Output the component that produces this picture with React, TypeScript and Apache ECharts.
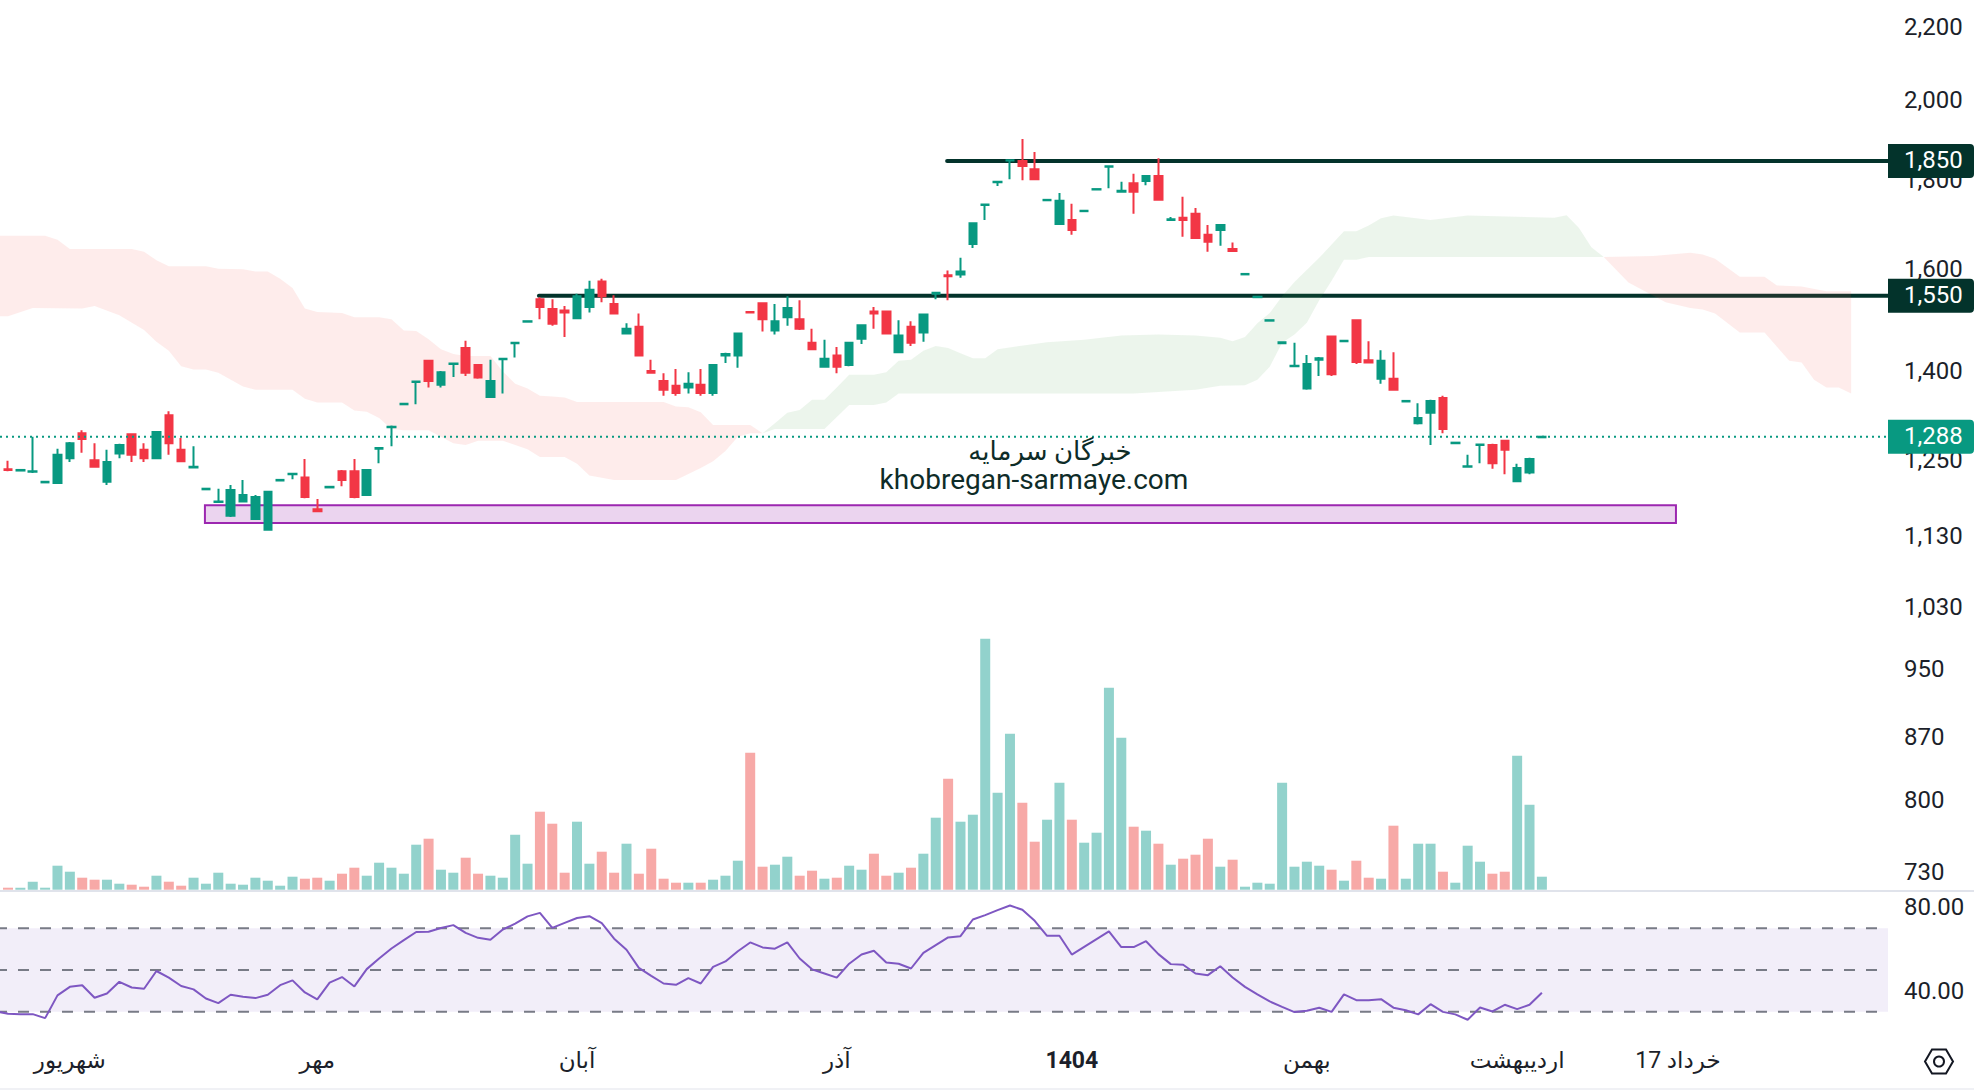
import React, { useEffect, useRef } from "react";
import * as echarts from "echarts";

const candleValues: number[][] = [
[1234,1233,1231,1248],[1232,1233,1232,1233],[1230,1231,1228,1288],[1213,1214,1213,1214],[1212,1258,1211,1268],
[1252,1277,1246,1279],[1294,1284,1261,1299],[1249,1238,1237,1277],[1214,1246,1209,1266],[1260,1274,1252,1276],
[1292,1258,1246,1294],[1266,1252,1246,1277],[1252,1296,1251,1297],[1325,1277,1258,1332],[1266,1247,1246,1286],
[1237,1238,1236,1272],[1202,1203,1202,1203],[1182,1183,1181,1203],[1161,1201,1159,1209],[1183,1193,1182,1217],
[1156,1190,1155,1193],[1140,1198,1139,1199],[1216,1217,1216,1217],[1226,1227,1218,1228],[1221,1190,1188,1251],
[1171,1168,1167,1187],[1205,1206,1205,1206],[1231,1217,1207,1233],[1231,1190,1188,1251],[1193,1233,1192,1234],
[1268,1269,1244,1270],[1304,1305,1272,1307],[1344,1345,1344,1345],[1384,1385,1344,1386],[1423,1386,1374,1425],
[1379,1402,1374,1404],[1417,1418,1393,1419],[1447,1401,1395,1461],[1415,1392,1390,1417],[1357,1386,1355,1425],
[1426,1427,1363,1428],[1456,1457,1429,1458],[1498,1499,1498,1499],[1543,1527,1503,1547],[1523,1494,1490,1543],
[1520,1516,1468,1529],[1505,1549,1503,1554],[1527,1562,1516,1581],[1579,1549,1537,1585],[1533,1514,1512,1551],
[1475,1484,1473,1495],[1488,1433,1431,1514],[1404,1401,1399,1425],[1386,1370,1359,1400],[1377,1364,1359,1408],
[1374,1381,1363,1402],[1379,1364,1359,1408],[1364,1415,1359,1417],[1433,1436,1419,1438],[1433,1475,1410,1477],
[1517,1516,1515,1518],[1535,1503,1479,1537],[1481,1499,1473,1533],[1507,1525,1490,1549],[1503,1484,1482,1541],
[1457,1445,1443,1484],[1412,1427,1410,1463],[1433,1412,1400,1449],[1415,1457,1413,1459],[1465,1491,1455,1493],
[1518,1514,1484,1527],[1518,1475,1473,1520],[1439,1471,1437,1501],[1488,1457,1451,1499],[1477,1512,1459,1514],
[1554,1556,1543,1558],[1592,1590,1541,1602],[1594,1600,1587,1629],[1659,1705,1650,1707],[1746,1747,1712,1748],
[1799,1800,1790,1801],[1851,1852,1806,1854],[1850,1838,1804,1904],[1830,1806,1804,1872],[1757,1758,1757,1758],
[1703,1756,1701,1774],[1712,1690,1679,1749],[1732,1733,1732,1733],[1782,1783,1782,1783],[1836,1837,1785,1838],
[1777,1779,1777,1800],[1797,1777,1726,1819],[1802,1814,1792,1816],[1814,1758,1756,1857],[1712,1714,1712,1719],
[1717,1712,1675,1765],[1726,1672,1670,1739],[1679,1664,1642,1701],[1690,1701,1655,1703],[1648,1644,1642,1662],
[1594,1595,1594,1595],[1547,1548,1547,1548],[1500,1501,1500,1501],[1456,1458,1456,1460],[1413,1414,1412,1457],
[1372,1417,1370,1434],[1425,1428,1395,1430],[1469,1398,1395,1471],[1460,1461,1460,1461],[1501,1421,1417,1503],
[1424,1420,1419,1460],[1390,1423,1381,1443],[1390,1370,1368,1439],[1349,1350,1349,1350],[1311,1320,1309,1346],
[1329,1350,1274,1352],[1355,1301,1294,1359],[1277,1278,1277,1278],[1238,1239,1237,1258],[1274,1275,1244,1276],
[1274,1244,1235,1276],[1281,1266,1226,1283],[1215,1236,1214,1243],[1229,1251,1226,1253],[1287,1288,1287,1288],
];

const volumeValues = [
6,6,24,6,72,54,36,30,30,18,15,9,42,24,12,36,18,51,18,15,36,27,12,39,33,36,27,48,66,42,81,66,48,135,153,60,51,96,48,42,36,165,78,234,198,51,204,78,114,51,138,48,123,33,21,21,21,30,42,87,411,69,75,99,42,
57,33,36,72,60,108,42,51,66,108,216,333,204,225,753,291,468,261,144,210,321,210,141,171,606,456,189,177,138,75,93,105,153,69,90,9,21,18,321,69,84,72,60,27,87,36,33,192,33,138,138,54,21,132,84,48,54,402,255,39,
];
const volumeSides = [
  "RGGGGGRRGG", "RRGRRGGGGG", "GGGGRRGRRG", "GGGGRGGRRG", "GGGRRRGGRR", "GRRRRGRGGG",
  "RRGGRRGRGG", "RRGRGGRGGG", "GGRRGGRGGG", "GRGRGRRRGR", "GGGGGGGRGR", "RGRGGGRGGG", "RRGGG",
].join("");
const monthIndexes = [5, 25, 46, 67, 86, 105, 122, 135];
const monthLabels = ["شهریور", "مهر", "آبان", "آذر", "1404", "بهمن", "اردیبهشت", "17 خرداد"];

// The first value belongs to the bar just off the left edge of the picture.
const rsiValues = [
30.2,29.0,28.8,28.8,26.9,37.8,41.9,42.7,36.7,38.7,44.3,41.6,41.0,49.5,46.3,42.3,40.7,36.3,34.1,38.1,37.1,36.5,38.1,42.7,45.0,39.2,35.9,43.9,46.6,42.1,50.4,
55.5,60.3,64.3,68.2,68.3,70.1,71.5,67.8,65.4,64.5,69.4,72.2,75.7,77.4,70.2,72.6,74.9,75.8,72.5,65.0,59.7,51.0,47.2,43.5,42.9,46.1,43.5,51.5,54.1,59.0,
63.2,60.8,60.2,63.2,55.5,50.3,48.3,46.3,53.0,57.4,59.2,53.6,53.0,50.7,58.2,61.9,65.6,66.2,74.2,76.3,78.7,80.9,78.9,73.6,66.4,66.4,57.4,61.1,64.8,68.5,
61.0,61.0,63.8,57.6,52.8,52.5,48.3,47.5,51.8,46.4,41.9,38.3,34.9,32.3,29.8,30.4,31.9,29.9,38.3,35.5,35.5,36.0,31.9,30.7,28.7,33.6,29.9,28.7,26.1,32.0,
30.1,33.3,31.2,33.3,39.1,
];
const rsiLevels = [70, 50, 30];
const rsiTicks = [80, 40];

const priceTickLabels = ["2,200", "2,000", "1,800", "1,600", "1,400", "1,250", "1,130", "1,030", "950", "870", "800", "730"];
const priceTickValues = [2207, 2004, 1804, 1605, 1404, 1249, 1131, 1030, 949, 868.7, 799.3, 727.6];
const tagPrices = [1850, 1550, 1288];
const tagColors = ["#03332B", "#03332B", "#089981"];
const supportLevels = [1850, 1550];
const supportStarts = [76, 43];
const lastPrice = 1288;
const zoneTop = 1177;
const zoneBottom = 1150;
const zoneStart = 16;
const zoneEnd = 135;

const redTopIdx = [-1,3,4,5,10,11,12,13,16,17,19,20,21,22,23,24,25,27,28,30,31,32,33,34,35,36,37,39,40,41,42,43,44,45,46,53,54,55,56,57,60,61];
const redTopVal = [1677,1677,1668,1648,1648,1642,1624,1611,1611,1606,1605,1600,1600,1585,1566,1524,1517,1515,1507,1507,1503,1481,1480,1464,1445,1436,1432,1432,1403,1381,1372,1359,1358,1356,1348,1348,1340,1339,1330,1308,1308,1294];
const redBotIdx = [-1,0,2,6,7,9,11,12,13,14,15,16,17,19,20,23,24,25,27,28,29,30,31,32,34,35,36,37,38,40,42,43,45,46,47,49,54,56,57,58,59,60,61];
const redBotVal = [1509,1509,1525,1524,1529,1511,1482,1459,1442,1413,1407,1407,1401,1376,1370,1370,1354,1347,1347,1333,1331,1320,1301,1299,1299,1288,1277,1274,1281,1281,1267,1254,1254,1243,1224,1217,1217,1236,1247,1264,1288,1294,1294];
const greenTopIdx = [61,62,63,64,65,66,67,68,70,71,72,73,74,75,76,77,78,79,80,84,87,90,93,96,98,99,100,101,102,103,104,106,108,109,110,111,112,115,118,125,126,127,128,129];
const greenTopVal = [1294,1311,1329,1334,1352,1352,1374,1397,1397,1402,1423,1425,1442,1451,1447,1437,1428,1428,1445,1458,1463,1471,1473,1471,1467,1460,1468,1495,1515,1549,1578,1629,1687,1687,1700,1716,1722,1712,1722,1717,1723,1694,1652,1631];
const greenBotIdx = [61,62,66,67,68,70,71,72,91,96,98,100,101,102,103,104,105,106,107,108,109,110,129];
const greenBotVal = [1294,1301,1301,1322,1343,1343,1347,1363,1363,1370,1377,1378,1388,1412,1457,1473,1496,1541,1581,1625,1625,1631,1631];
const red2TopIdx = [129,133,136,137,138,140,142,143,145,147,149];
const red2TopVal = [1631,1633,1640,1636,1627,1589,1589,1571,1569,1559,1559];
const red2BotIdx = [129,131,134,136,137,138,140,142,144,145,146,147,148,149];
const red2BotVal = [1631,1577,1537,1525,1522,1514,1477,1477,1423,1420,1388,1374,1374,1363];

const clouds = [
  { topIdx: redTopIdx, topVal: redTopVal, botIdx: redBotIdx, botVal: redBotVal, fill: "rgba(244,67,54,0.1)" },
  { topIdx: greenTopIdx, topVal: greenTopVal, botIdx: greenBotIdx, botVal: greenBotVal, fill: "rgba(67,160,71,0.1)" },
  { topIdx: red2TopIdx, topVal: red2TopVal, botIdx: red2BotIdx, botVal: red2BotVal, fill: "rgba(244,67,54,0.1)" },
];

const GREEN = "#089981";
const RED = "#F23645";
const VOL_GREEN = "#92D2CC";
const VOL_RED = "#F7A9A7";
const TEXT = "#1C1F2A";
const FONT = 'Roboto, "Noto Sans", "DejaVu Sans", sans-serif';
const PANE_RIGHT = 1888;
const STEP = 12.37;
const TOTAL = 154;
const GRID_LEFT = 8 - 1.5 * STEP;
const GRID_WIDTH = TOTAL * STEP;

const pane = (top: number, height: number) => ({ left: GRID_LEFT, top, width: GRID_WIDTH, height, outerBoundsMode: "none" });

const categories = Array.from({ length: TOTAL }, (_, k) => {
  const at = monthIndexes.indexOf(k - 1);
  return at >= 0 ? monthLabels[at] : "";
});

const hiddenX = (gridIndex: number) => ({
  type: "category",
  gridIndex,
  data: categories,
  boundaryGap: true,
  axisLine: { show: false },
  axisTick: { show: false },
  axisLabel: { show: false },
  splitLine: { show: false },
});

const hiddenValue = {
  axisLine: { show: false },
  axisTick: { show: false },
  axisLabel: { show: false },
  splitLine: { show: false },
};

const slot = (list: number[]) => list.map((v, k) => [0, v, k]);

export default function App() {
  const ref = useRef<HTMLDivElement | null>(null);
  useEffect(() => {
    document.body.style.margin = "0";
    const chart = echarts.init(ref.current as HTMLDivElement, undefined, { renderer: "svg" });
    const option: any = {
      animation: false,
      backgroundColor: "#ffffff",
      grid: [pane(0, 890), pane(589.7, 300), pane(892, 148)],
      xAxis: [
        hiddenX(0),
        hiddenX(1),
        {
          ...hiddenX(2),
          axisLabel: {
            show: true,
            interval: 0,
            hideOverlap: false,
            margin: 9,
            color: TEXT,
            fontSize: 23,
            fontFamily: FONT,
            formatter: (v: string) => (v === "1404" ? "{b|1404}" : v),
            rich: { b: { fontWeight: "bold", fontSize: 23, fontFamily: FONT, color: TEXT } },
          },
        },
      ],
      yAxis: [
        { type: "log", gridIndex: 0, min: 710.2, max: 2285.6, ...hiddenValue },
        { type: "value", gridIndex: 1, min: 0, max: 900, ...hiddenValue },
        { type: "value", gridIndex: 2, min: 16.4, max: 87.4, ...hiddenValue },
      ],
      graphic: [
        { type: "rect", z: 20, silent: true, shape: { x: 0, y: 890, width: 1974, height: 2 }, style: { fill: "#E0E3EB" } },
        { type: "rect", z: 20, silent: true, shape: { x: 0, y: 1088, width: 1974, height: 2 }, style: { fill: "#F0F1F5" } },
        { type: "text", z: 20, silent: true, style: { text: "خبرگان سرمایه", x: 1050, y: 451, font: `26px ${FONT}`, fill: "#0E2C28", align: "center", verticalAlign: "middle" } },
        { type: "text", z: 20, silent: true, style: { text: "khobregan-sarmaye.com", x: 1034, y: 479, font: `28px ${FONT}`, fill: "#0E2C28", align: "center", verticalAlign: "middle" } },
        {
          type: "polygon",
          z: 20,
          silent: true,
          shape: { points: [[1925, 1061.5], [1932, 1049.5], [1946, 1049.5], [1953, 1061.5], [1946, 1073.5], [1932, 1073.5]] },
          style: { fill: "none", stroke: "#131722", lineWidth: 2 },
        },
        { type: "circle", z: 20, silent: true, shape: { cx: 1939, cy: 1061.5, r: 5 }, style: { fill: "none", stroke: "#131722", lineWidth: 2 } },
      ],
      series: [
        {
          type: "custom",
          name: "zone",
          coordinateSystem: "cartesian2d",
          xAxisIndex: 0,
          yAxisIndex: 0,
          z: 1,
          silent: true,
          data: [[0, zoneTop, zoneBottom]],
          renderItem: (_p: any, api: any) => {
            const a = api.coord([zoneStart + 1, zoneTop]);
            const b = api.coord([zoneEnd + 1, zoneBottom]);
            return {
              type: "rect",
              shape: { x: a[0] - 1, y: a[1], width: b[0] - a[0] - 1, height: b[1] - a[1] },
              style: { fill: "rgba(156,39,176,0.2)", stroke: "#9C27B0", lineWidth: 2 },
            };
          },
        },
        {
          type: "custom",
          name: "support",
          coordinateSystem: "cartesian2d",
          xAxisIndex: 0,
          yAxisIndex: 0,
          z: 2,
          silent: true,
          data: slot(supportLevels),
          renderItem: (p: any, api: any) => {
            const a = api.coord([supportStarts[p.dataIndex] + 1, supportLevels[p.dataIndex]]);
            return {
              type: "line",
              shape: { x1: a[0] - 1, y1: a[1], x2: PANE_RIGHT, y2: a[1] },
              style: { stroke: "#03332B", lineWidth: 4, lineCap: "round" },
            };
          },
        },
        {
          type: "custom",
          name: "cloud",
          coordinateSystem: "cartesian2d",
          xAxisIndex: 0,
          yAxisIndex: 0,
          z: 3,
          silent: true,
          data: clouds.map((_c, k) => [0, 1500, k]),
          renderItem: (p: any, api: any) => {
            const c = clouds[p.dataIndex];
            const upper = c.topIdx.map((x, k) => api.coord([x + 1, c.topVal[k]]));
            const lower = c.botIdx.map((x, k) => api.coord([x + 1, c.botVal[k]])).reverse();
            return { type: "polygon", shape: { points: [...upper, ...lower] }, style: { fill: c.fill } };
          },
        },
        {
          type: "bar",
          name: "volume",
          xAxisIndex: 1,
          yAxisIndex: 1,
          barWidth: 10,
          z: 3,
          silent: true,
          data: ["-", ...volumeValues.map((v, k) => ({
            value: v,
            itemStyle: { color: volumeSides[k] === "G" ? VOL_GREEN : VOL_RED },
          }))],
        },
        {
          type: "candlestick",
          name: "price",
          xAxisIndex: 0,
          yAxisIndex: 0,
          barWidth: 8,
          z: 4,
          silent: true,
          itemStyle: { color: GREEN, color0: RED, borderColor: GREEN, borderColor0: RED, borderWidth: 2 },
          data: [["-", "-", "-", "-"], ...candleValues],
        },
        {
          type: "custom",
          name: "last",
          coordinateSystem: "cartesian2d",
          xAxisIndex: 0,
          yAxisIndex: 0,
          z: 5,
          silent: true,
          data: [[0, lastPrice]],
          renderItem: (_p: any, api: any) => {
            const y = api.coord([1, lastPrice])[1];
            return {
              type: "line",
              shape: { x1: 0, y1: y, x2: PANE_RIGHT, y2: y },
              style: { stroke: GREEN, lineWidth: 2, lineDash: [2, 4] },
            };
          },
        },
        {
          type: "custom",
          name: "ticks",
          coordinateSystem: "cartesian2d",
          xAxisIndex: 0,
          yAxisIndex: 0,
          z: 6,
          silent: true,
          data: slot(priceTickValues),
          renderItem: (p: any, api: any) => {
            const y = api.coord([1, priceTickValues[p.dataIndex]])[1];
            return {
              type: "text",
              style: { text: priceTickLabels[p.dataIndex], x: 1904, y, font: `24px ${FONT}`, fill: TEXT, align: "left", verticalAlign: "middle" },
            };
          },
        },
        {
          type: "custom",
          name: "tags",
          coordinateSystem: "cartesian2d",
          xAxisIndex: 0,
          yAxisIndex: 0,
          z: 7,
          silent: true,
          data: slot(tagPrices),
          renderItem: (p: any, api: any) => {
            const v = tagPrices[p.dataIndex];
            const y = api.coord([1, v])[1];
            return {
              type: "group",
              children: [
                {
                  type: "rect",
                  shape: { x: PANE_RIGHT, y: y - 17, width: 86, height: 34, r: [0, 4, 4, 0] },
                  style: { fill: tagColors[p.dataIndex] },
                },
                {
                  type: "text",
                  style: { text: v.toLocaleString("en-US"), x: 1904, y: y - 1, font: `24px ${FONT}`, fill: "#FFFFFF", align: "left", verticalAlign: "middle" },
                },
              ],
            };
          },
        },
        {
          type: "custom",
          name: "rsi band",
          coordinateSystem: "cartesian2d",
          xAxisIndex: 2,
          yAxisIndex: 2,
          z: 1,
          silent: true,
          data: [[0, rsiLevels[0]]],
          renderItem: (_p: any, api: any) => {
            const a = api.coord([1, rsiLevels[0]])[1];
            const b = api.coord([1, rsiLevels[2]])[1];
            return { type: "rect", shape: { x: 0, y: a, width: PANE_RIGHT, height: b - a }, style: { fill: "rgba(126,87,194,0.1)" } };
          },
        },
        {
          type: "custom",
          name: "rsi levels",
          coordinateSystem: "cartesian2d",
          xAxisIndex: 2,
          yAxisIndex: 2,
          z: 2,
          silent: true,
          data: slot(rsiLevels),
          renderItem: (p: any, api: any) => {
            const y = api.coord([1, rsiLevels[p.dataIndex]])[1];
            return {
              type: "line",
              shape: { x1: -4, y1: y, x2: PANE_RIGHT, y2: y },
              style: { stroke: "#787B86", lineWidth: 2, lineDash: [11, 11] },
            };
          },
        },
        {
          type: "custom",
          name: "rsi ticks",
          coordinateSystem: "cartesian2d",
          xAxisIndex: 2,
          yAxisIndex: 2,
          z: 6,
          silent: true,
          data: slot(rsiTicks),
          renderItem: (p: any, api: any) => {
            const v = rsiTicks[p.dataIndex];
            const y = api.coord([1, v])[1];
            return {
              type: "text",
              style: { text: v.toFixed(2), x: 1904, y, font: `24px ${FONT}`, fill: TEXT, align: "left", verticalAlign: "middle" },
            };
          },
        },
        {
          type: "line",
          name: "RSI",
          xAxisIndex: 2,
          yAxisIndex: 2,
          z: 4,
          silent: true,
          symbol: "none",
          lineStyle: { color: "#7E57C2", width: 2 },
          data: rsiValues,
        },
      ],
    };
    chart.setOption(option);
    return () => chart.dispose();
  }, []);
  return <div ref={ref} style={{ position: "absolute", left: 0, top: 0, width: 1974, height: 1090 }} />;
}
